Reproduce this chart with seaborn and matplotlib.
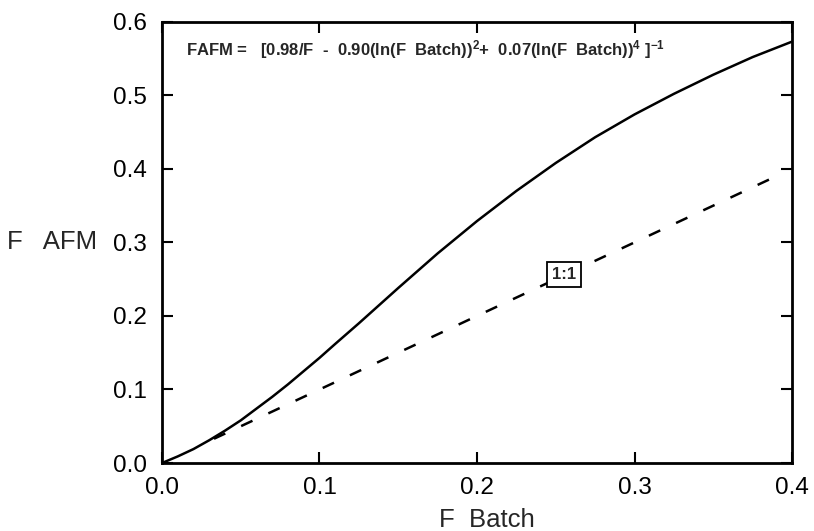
import matplotlib
matplotlib.use("Agg")
import matplotlib.pyplot as plt
import seaborn as sns
import pandas as pd

# FAFM curve
f_batch = [0.0, 0.01, 0.02, 0.03, 0.04, 0.05, 0.06, 0.07, 0.08, 0.09, 0.10,
           0.11, 0.125, 0.15, 0.175, 0.20, 0.225, 0.25, 0.275, 0.30, 0.325,
           0.35, 0.375, 0.40]
f_afm = [0.0, 0.009, 0.019, 0.031, 0.044, 0.058, 0.074, 0.090, 0.107, 0.125,
         0.143, 0.162, 0.190, 0.238, 0.285, 0.329, 0.370, 0.408, 0.443, 0.474,
         0.502, 0.528, 0.552, 0.573]

# 1:1 reference line
one_x = [0.033, 0.39]
one_y = [0.033, 0.39]

x_ticks = [0.0, 0.1, 0.2, 0.3, 0.4]
y_ticks = [0.0, 0.1, 0.2, 0.3, 0.4, 0.5, 0.6]

sns.set_theme(style="ticks")
plt.rcParams['font.family'] = ['Liberation Sans', 'DejaVu Sans']
plt.rcParams['mathtext.default'] = 'regular'

fig = plt.figure(figsize=(8.14, 5.31), dpi=100)
ax = fig.add_axes([0.199, 0.128, 0.774, 0.831])

curve = pd.DataFrame({'F Batch': f_batch, 'F AFM': f_afm})
sns.lineplot(data=curve, x='F Batch', y='F AFM', ax=ax, color='black',
             linewidth=1.8, sort=False)
sns.lineplot(x=one_x, y=one_y, ax=ax, color='black', linewidth=1.8,
             dashes=False, linestyle=(0, (5, 7)))

ax.text(0.255, 0.257, '1:1', ha='center', va='center', fontsize=12,
        fontweight='bold',
        bbox=dict(boxstyle='square,pad=0.3', facecolor='white',
                  edgecolor='black', linewidth=1.3))

ax.text(0.015, 0.554,
        r'FAFM =   [0.98/F  -  0.90(ln(F  Batch))$^{2}$+  0.07(ln(F  Batch))$^{4}$ ]$^{-1}$',
        fontsize=12, fontweight='bold', ha='left', va='baseline')

ax.set_xlim(0, 0.4)
ax.set_ylim(0, 0.6)
ax.set_xticks(x_ticks)
ax.set_yticks(y_ticks)
ax.set_xticklabels([f'{v:.1f}' for v in x_ticks])
ax.set_yticklabels([f'{v:.1f}' for v in y_ticks])
ax.tick_params(direction='in', length=8, width=1.5, labelsize=17.5,
               top=True, right=True, color='black', labelcolor='black')
ax.tick_params(axis='x', pad=10)
ax.tick_params(axis='y', pad=11)

for s in ax.spines.values():
    s.set_linewidth(2)
    s.set_color('black')

ax.set_xlabel('F  Batch', fontsize=18.5, va='top')
ax.xaxis.set_label_coords(0.516, -0.102)
ax.set_ylabel('F   AFM', fontsize=18.5, rotation=0, ha='right', va='center')
ax.yaxis.set_label_coords(-0.103, 0.5)

fig.savefig('out.png', dpi=100)
